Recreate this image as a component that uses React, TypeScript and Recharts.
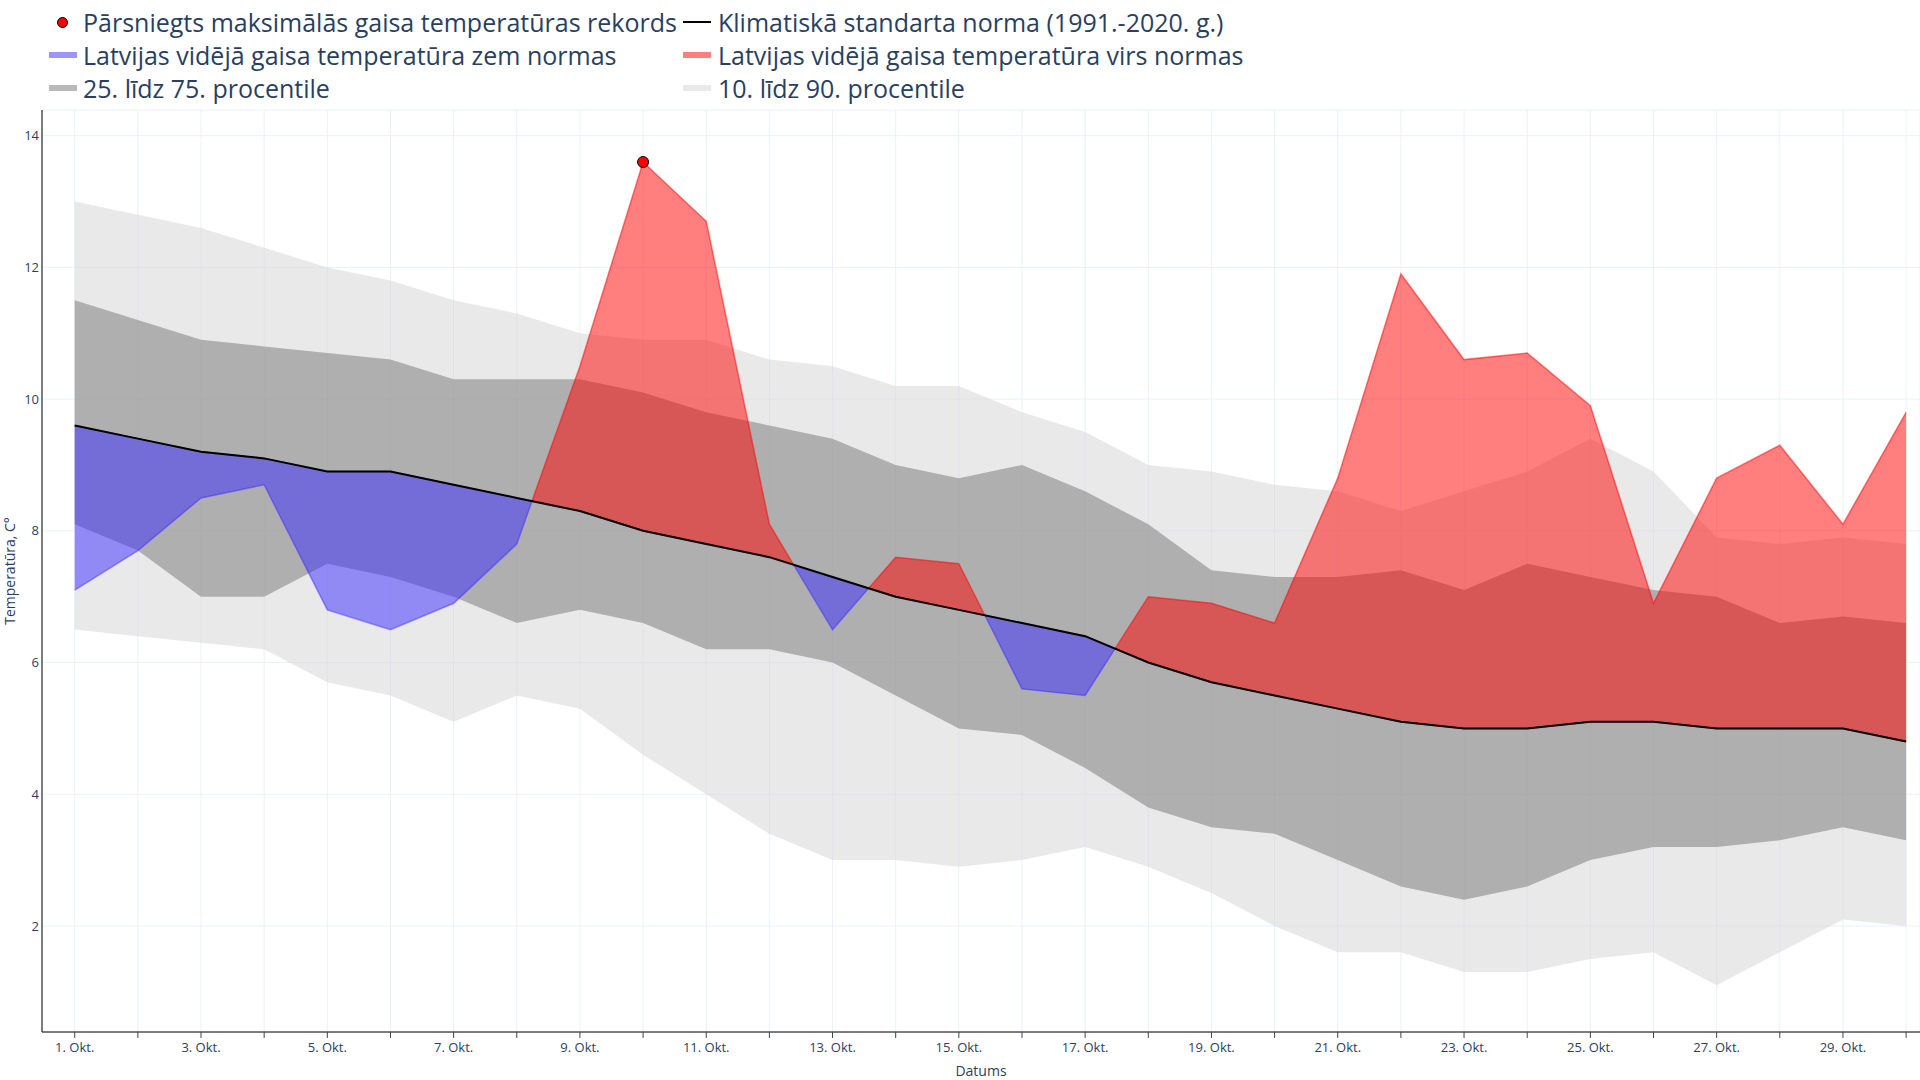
import React from 'react';
import { ComposedChart, Area, Line, Scatter, XAxis, YAxis, CartesianGrid } from 'recharts';

// ---- data ----
const days = [1, 2, 3, 4, 5, 6, 7, 8, 9, 10, 11, 12, 13, 14, 15, 16, 17, 18, 19, 20, 21, 22, 23, 24, 25, 26, 27, 28, 29, 30];
const normValues = [9.6, 9.4, 9.2, 9.1, 8.9, 8.9, 8.7, 8.5, 8.3, 8.0, 7.8, 7.6, 7.3, 7.0, 6.8, 6.6, 6.4, 6.0, 5.7, 5.5, 5.3, 5.1, 5.0, 5.0, 5.1, 5.1, 5.0, 5.0, 5.0, 4.8];
const actualValues = [7.1, 7.7, 8.5, 8.7, 6.8, 6.5, 6.9, 7.8, 10.5, 13.6, 12.7, 8.1, 6.5, 7.6, 7.5, 5.6, 5.5, 7.0, 6.9, 6.6, 8.8, 11.9, 10.6, 10.7, 9.9, 6.9, 8.8, 9.3, 8.1, 9.8];
const p10Values = [6.5, 6.4, 6.3, 6.2, 5.7, 5.5, 5.1, 5.5, 5.3, 4.6, 4.0, 3.4, 3.0, 3.0, 2.9, 3.0, 3.2, 2.9, 2.5, 2.0, 1.6, 1.6, 1.3, 1.3, 1.5, 1.6, 1.1, 1.6, 2.1, 2.0];
const p25Values = [8.1, 7.7, 7.0, 7.0, 7.5, 7.3, 7.0, 6.6, 6.8, 6.6, 6.2, 6.2, 6.0, 5.5, 5.0, 4.9, 4.4, 3.8, 3.5, 3.4, 3.0, 2.6, 2.4, 2.6, 3.0, 3.2, 3.2, 3.3, 3.5, 3.3];
const p75Values = [11.5, 11.2, 10.9, 10.8, 10.7, 10.6, 10.3, 10.3, 10.3, 10.1, 9.8, 9.6, 9.4, 9.0, 8.8, 9.0, 8.6, 8.1, 7.4, 7.3, 7.3, 7.4, 7.1, 7.5, 7.3, 7.1, 7.0, 6.6, 6.7, 6.6];
const p90Values = [13.0, 12.8, 12.6, 12.3, 12.0, 11.8, 11.5, 11.3, 11.0, 10.9, 10.9, 10.6, 10.5, 10.2, 10.2, 9.8, 9.5, 9.0, 8.9, 8.7, 8.6, 8.3, 8.6, 8.9, 9.4, 8.9, 7.9, 7.8, 7.9, 7.8];
const recordDays = [10];
const recordValues = [13.6];
const yTicks = [2, 4, 6, 8, 10, 12, 14];
const monthSuffix = 'Okt.';
const xTitle = 'Datums';
const yTitle = 'Temperatūra, C°';

const legendItems = [
  { label: 'Pārsniegts maksimālās gaisa temperatūras rekords', kind: 'marker', color: '#ff0000' },
  { label: 'Klimatiskā standarta norma (1991.-2020. g.)', kind: 'line', color: '#000000' },
  { label: 'Latvijas vidējā gaisa temperatūra zem normas', kind: 'fill', color: 'rgba(60,44,255,0.5)' },
  { label: 'Latvijas vidējā gaisa temperatūra virs normas', kind: 'fill', color: 'rgba(255,0,0,0.5)' },
  { label: '25. līdz 75. procentile', kind: 'fill', color: 'rgba(128,128,128,0.55)' },
  { label: '10. līdz 90. procentile', kind: 'fill', color: 'rgba(211,211,211,0.5)' },
];

// ---- derived tables ----
const bandData = days.map((d, i) => ({
  x: d,
  outer: [p10Values[i], p90Values[i]],
  inner: [p25Values[i], p75Values[i]],
  norm: normValues[i],
}));

// anomaly fill: split at the points where the observed line crosses the norm line
const anomalyData: any[] = [];
days.forEach((d, i) => {
  const n = normValues[i];
  const a = actualValues[i];
  const diff = a - n;
  anomalyData.push({
    x: d,
    above: diff >= 0 ? [n, a] : null,
    below: diff < 0 ? [a, n] : null,
  });
  if (i < days.length - 1) {
    const diff2 = actualValues[i + 1] - normValues[i + 1];
    if ((diff >= 0) !== (diff2 >= 0)) {
      const t = diff / (diff - diff2);
      const cx = d + t * (days[i + 1] - d);
      const cy = n + t * (normValues[i + 1] - n);
      anomalyData.push({ x: cx, above: [cy, cy], below: [cy, cy] });
    }
  }
});

const recordData = recordDays.map((d, i) => ({ x: d, y: recordValues[i] }));

// ---- layout ----
const W = 1920;
const H = 1080;
const TEXT = '#2a3f5f';
const FONT = "'Open Sans', verdana, arial, sans-serif";
const legendCols = [{ sym: 49, text: 83 }, { sym: 683, text: 718 }];
const legendRows = [22, 55, 88];

const Legend = () => (
  <>
    {legendItems.map((it, i) => {
      const col = legendCols[i % 2];
      const row = legendRows[Math.floor(i / 2)];
      let sym: React.ReactNode = null;
      if (it.kind === 'marker') {
        sym = <div style={{ width: 11, height: 11, borderRadius: '50%', background: it.color, border: '1px solid #000', boxSizing: 'border-box', marginLeft: 8 }} />;
      } else if (it.kind === 'line') {
        sym = <div style={{ width: 28, height: 2, background: it.color }} />;
      } else {
        sym = <div style={{ width: 28, height: 6, background: it.color }} />;
      }
      return (
        <div key={i} style={{ position: 'absolute', left: col.sym, top: row - 16, height: 32, display: 'flex', alignItems: 'center' }}>
          <div style={{ width: col.text - col.sym, display: 'flex', alignItems: 'center' }}>{sym}</div>
          <span style={{ fontSize: 25, color: TEXT, whiteSpace: 'nowrap', lineHeight: '32px' }}>{it.label}</span>
        </div>
      );
    })}
  </>
);

const YTitle = (props: any) => {
  const vb = props.viewBox || { x: 8, y: 110, width: 34, height: 922 };
  const cx = vb.x + 1;
  const cy = vb.y + vb.height / 2;
  return (
    <text x={cx} y={cy} transform={`rotate(-90 ${cx} ${cy})`} textAnchor="middle" dominantBaseline="central" fill={TEXT} fontSize={14} fontFamily={FONT}>
      {yTitle}
    </text>
  );
};

const RecordDot = (props: any) => {
  const { cx, cy } = props;
  return <circle cx={cx} cy={cy} r={5.5} fill="#ff0000" stroke="#000" strokeWidth={1} />;
};

export default function App() {
  return (
    <div style={{ position: 'absolute', left: 0, top: 0, width: W, height: H, background: '#fff', fontFamily: FONT }}>
      <ComposedChart width={W} height={H} margin={{ top: 110, right: 0, bottom: 0, left: 8 }} data={bandData}>
        <CartesianGrid stroke="#EBF0F8" strokeWidth={1} />
        <XAxis
          dataKey="x"
          type="number"
          domain={[0.482, 30.22]}
          allowDataOverflow
          ticks={days}
          interval={0}
          tickFormatter={(v: number) => (v % 2 === 1 ? `${v}. ${monthSuffix}` : '')}
          tick={{ fill: TEXT, fontSize: 13, fontFamily: FONT }}
          tickLine={{ stroke: '#444' }}
          tickSize={6}
          tickMargin={5}
          axisLine={{ stroke: '#000', strokeWidth: 1 }}
          height={48}
          label={{ value: xTitle, position: 'insideBottom', offset: 4, fill: TEXT, fontSize: 14, fontFamily: FONT }}
        />
        <YAxis
          type="number"
          domain={[0.39, 14.39]}
          allowDataOverflow
          ticks={yTicks}
          tick={{ fill: TEXT, fontSize: 13, fontFamily: FONT }}
          tickLine={false}
          tickSize={0}
          tickMargin={3}
          axisLine={{ stroke: '#000', strokeWidth: 1 }}
          width={34}
          label={{ content: YTitle }}
        />
        <Area data={bandData} dataKey="outer" type="linear" stroke="none" fill="rgb(211,211,211)" fillOpacity={0.5} isAnimationActive={false} activeDot={false} />
        <Area data={bandData} dataKey="inner" type="linear" stroke="none" fill="rgb(128,128,128)" fillOpacity={0.55} isAnimationActive={false} activeDot={false} />
        <Area data={anomalyData} dataKey="above" type="linear" stroke="rgba(255,0,0,0.5)" strokeWidth={1.5} fill="rgb(255,0,0)" fillOpacity={0.5} isAnimationActive={false} activeDot={false} />
        <Area data={anomalyData} dataKey="below" type="linear" stroke="rgba(60,44,255,0.5)" strokeWidth={1.5} fill="rgb(60,44,255)" fillOpacity={0.5} isAnimationActive={false} activeDot={false} />
        <Line data={bandData} dataKey="norm" type="linear" stroke="#000" strokeWidth={2} dot={false} activeDot={false} isAnimationActive={false} />
        <Scatter data={recordData} dataKey="y" shape={RecordDot} isAnimationActive={false} />
      </ComposedChart>
      <Legend />
    </div>
  );
}
